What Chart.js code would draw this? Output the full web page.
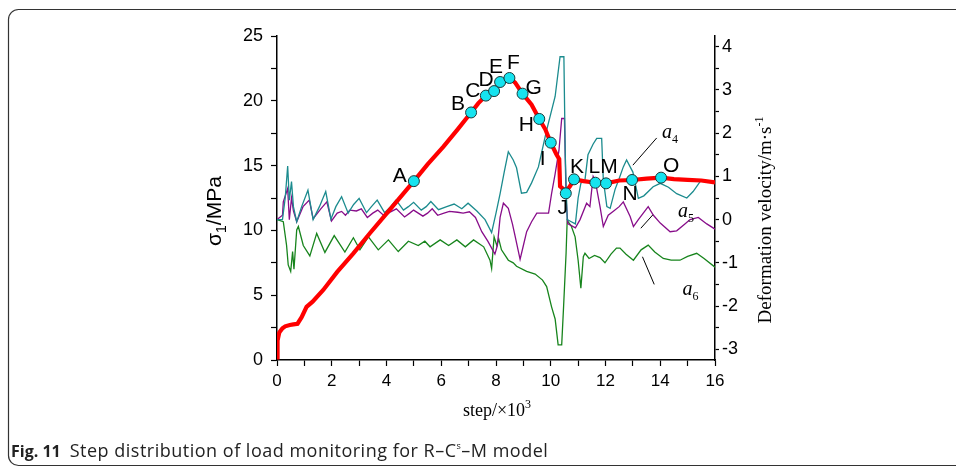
<!DOCTYPE html>
<html>
<head>
<meta charset="utf-8">
<script src="https://cdn.jsdelivr.net/npm/chart.js@4.4.1/dist/chart.umd.min.js"></script>
<style>
  html, body { margin: 0; padding: 0; background: #fff; }
  #wrap { width: 956px; height: 469px; }
</style>
</head>
<body>
<div id="wrap"><canvas id="loadChart" width="956" height="469"></canvas></div>
<script>
// stress curve (step in 10^3, sigma1 in MPa)
const stressSteps = [0, 0.01, 0.03, 0.08, 0.11, 0.2, 0.3, 0.47, 0.6, 0.75, 0.9, 1.08, 1.3, 1.69, 2.2, 2.79, 3.4, 4.0, 4.5, 5.0, 5.5, 6.08, 6.6, 7.09, 7.35, 7.63, 7.93, 8.15, 8.3, 8.49, 8.7, 8.97, 9.3, 9.58, 9.8, 10.0, 10.2, 10.31, 10.34, 10.45, 10.55, 10.7, 10.85, 11.2, 11.63, 12.02, 12.5, 12.97, 13.5, 14.03, 14.5, 15.0, 15.5, 16.0];
const stressValues = [0.2, 0.5, 1.5, 2.1, 2.2, 2.45, 2.6, 2.7, 2.75, 2.8, 3.3, 4.1, 4.5, 5.4, 6.8, 8.23, 9.8, 11.3, 12.55, 13.8, 15.1, 16.46, 17.8, 19.1, 19.8, 20.4, 20.75, 21.45, 21.6, 21.76, 21.4, 20.55, 19.7, 18.6, 17.8, 16.77, 15.9, 15.5, 13.4, 13.2, 13.0, 13.4, 13.94, 13.8, 13.68, 13.63, 13.85, 13.89, 14.0, 14.07, 13.95, 13.9, 13.85, 13.7];

// monitoring points on the stress curve
const markerLabels = ['A', 'B', 'C', 'D', 'E', 'F', 'G', 'H', 'I', 'J', 'K', 'L', 'M', 'N', 'O'];
const markerSteps = [5.0, 7.09, 7.63, 7.93, 8.15, 8.49, 8.97, 9.58, 10.0, 10.55, 10.85, 11.63, 12.02, 12.97, 14.03];
const markerStress = [13.8, 19.1, 20.4, 20.75, 21.45, 21.76, 20.55, 18.6, 16.77, 12.86, 13.94, 13.68, 13.63, 13.89, 14.07];

// deformation velocity a4 (m/s)
const a4Steps = [0, 0.2, 0.3, 0.39, 0.45, 0.53, 0.6, 0.72, 0.9, 1.13, 1.32, 1.55, 1.78, 1.97, 2.15, 2.36, 2.6, 2.8, 3.0, 3.27, 3.45, 3.66, 3.93, 4.15, 4.35, 4.62, 4.8, 4.99, 5.27, 5.45, 5.62, 5.9, 6.2, 6.47, 6.75, 6.98, 7.3, 7.6, 7.84, 8.0, 8.15, 8.3, 8.45, 8.63, 8.75, 8.93, 9.12, 9.3, 9.55, 9.85, 10.16, 10.34, 10.48, 10.53, 10.6, 10.75, 10.9, 11.0, 11.1, 11.25, 11.36, 11.55, 11.68, 11.86, 11.92, 12.05, 12.17, 12.35, 12.5, 12.65, 12.77, 13.0, 13.2, 13.4, 13.74, 14.0, 14.3, 14.6, 14.97, 15.2, 15.5, 15.8, 16.0];
const a4Values = [0, 0, 0.5, 1.24, 0.45, 0.88, 0.3, -0.05, 0.3, 0.68, 0, 0.3, 0.65, 0.01, 0.3, 0.53, 0.15, 0.35, 0.49, 0.16, 0.3, 0.45, 0.16, 0.3, 0.45, 0.22, 0.3, 0.4, 0.22, 0.3, 0.42, 0.23, 0.3, 0.36, 0.25, 0.38, 0.2, 0.0, -0.3, 0.15, 0.6, 1.1, 1.57, 1.38, 1.2, 0.61, 0.63, 0.85, 1.22, 2.07, 2.85, 3.77, 3.77, 1.5, 0.0, -0.05, -0.1, 0.5, 0.84, 0.92, 1.5, 1.75, 1.88, 1.88, 0.92, 0.3, 0.26, 0.7, 0.95, 1.22, 1.38, 1.1, 0.49, 0.55, 0.76, 0.84, 0.75, 0.6, 0.5, 0.65, 0.92, 0.88, 0.85];

// deformation velocity a5 (m/s)
const a5Steps = [0, 0.2, 0.23, 0.39, 0.45, 0.53, 0.6, 0.72, 0.95, 1.18, 1.32, 1.6, 1.82, 1.99, 2.2, 2.36, 2.5, 2.66, 2.9, 3.08, 3.3, 3.5, 3.68, 3.93, 4.15, 4.36, 4.66, 4.85, 4.99, 5.33, 5.5, 5.67, 5.87, 6.1, 6.3, 6.6, 6.8, 7.03, 7.25, 7.48, 7.7, 7.96, 8.05, 8.15, 8.27, 8.45, 8.6, 8.69, 8.88, 9.0, 9.12, 9.3, 9.49, 9.92, 10.03, 10.16, 10.3, 10.4, 10.5, 10.56, 10.62, 10.9, 11.07, 11.31, 11.43, 11.55, 11.62, 11.8, 11.92, 12.1, 12.3, 12.5, 12.65, 12.9, 13.02, 13.2, 13.56, 13.75, 14.0, 14.36, 14.6, 14.9, 15.09, 15.39, 15.7, 16.0];
const a5Values = [0, 0.1, 0.41, 0.72, 0.0, 0.5, 0.2, -0.05, 0.3, 0.45, 0.02, 0.25, 0.41, -0.03, 0.15, 0.19, 0.1, 0.22, 0.2, 0.25, 0.05, 0.15, 0.22, 0.08, 0.18, 0.25, 0.06, 0.15, 0.22, 0.08, 0.15, 0.25, 0.1, 0.15, 0.19, 0.17, 0.15, 0.18, 0.05, -0.28, -0.5, -0.8, -0.6, 0.05, 0.38, 0.26, -0.1, -0.36, -0.92, -0.6, -0.28, -0.05, 0.15, 0.15, 0.6, 1.06, 1.6, 2.34, 2.34, 0.5, -0.09, -0.19, 0.0, 0.38, 0.3, 1.0, 0.92, 0.3, -0.16, 0.1, 0.2, 0.3, 0.41, 0.07, -0.16, 0.0, 0.3, 0.1, -0.08, -0.28, -0.26, -0.1, 0.0, 0.05, -0.1, -0.22];

// deformation velocity a6 (m/s)
const a6Steps = [0, 0.23, 0.35, 0.41, 0.5, 0.57, 0.62, 0.72, 0.78, 0.96, 1.2, 1.45, 1.75, 2.09, 2.48, 2.79, 3.03, 3.34, 3.7, 4.07, 4.43, 4.8, 5.16, 5.4, 5.59, 5.96, 6.27, 6.57, 6.88, 7.18, 7.55, 7.78, 7.84, 7.93, 8.03, 8.1, 8.2, 8.45, 8.63, 8.75, 9.12, 9.43, 9.7, 9.85, 10.03, 10.16, 10.27, 10.4, 10.47, 10.56, 10.6, 10.75, 10.89, 11.0, 11.1, 11.19, 11.25, 11.4, 11.6, 11.8, 11.98, 12.2, 12.4, 12.53, 12.75, 13.02, 13.3, 13.56, 13.8, 14.11, 14.4, 14.72, 15.0, 15.33, 15.6, 16.0];
const a6Values = [0, -0.05, -0.6, -1.05, -1.2, -0.74, -1.15, -0.24, -0.16, -0.6, -0.84, -0.32, -0.76, -0.37, -0.75, -0.42, -0.7, -0.4, -0.7, -0.47, -0.74, -0.5, -0.6, -0.5, -0.63, -0.47, -0.6, -0.47, -0.63, -0.47, -0.63, -0.94, -1.13, -0.4, -0.6, -0.45, -0.7, -0.94, -1.0, -1.08, -1.2, -1.26, -1.4, -1.55, -2.02, -2.3, -2.9, -2.9, -2.0, -0.78, -0.02, -0.15, -0.4, -0.94, -1.59, -0.86, -0.78, -0.9, -0.83, -0.88, -1.0, -0.8, -0.66, -0.66, -0.8, -0.94, -0.7, -0.59, -0.75, -0.9, -0.94, -0.94, -0.85, -0.78, -0.9, -1.1];

// axis ticks (labelled ones, minor ticks sit halfway between)
const stepTicks = [0, 2, 4, 6, 8, 10, 12, 14, 16];
const stressTicks = [0, 5, 10, 15, 20, 25];
const velocityTicks = [-3, -2, -1, 0, 1, 2, 3, 4];

// pixel offsets of the point letters from their marker
const markerLabelOffsets = [[-14, -5], [-13, -8], [-13, -4], [-8, -11], [-4, -15], [4, -15], [11, -5], [-13, 6], [-8, 17], [-3, 15], [3, -12], [-1, -16], [3, -16], [-2, 14], [10, -11]];

// series tags with leader lines (in step / velocity units)
const seriesTags = [
  { name: '4', from: [13.0, 1.26], to: [13.87, 1.89], at: [14.06, 1.88] },
  { name: '5', from: [13.29, -0.2], to: [13.73, 0.11], at: [14.65, 0.06] },
  { name: '6', from: [13.35, -0.86], to: [13.78, -1.5], at: [14.81, -1.75] }
];

const pairs = (xs, ys) => xs.map((v, i) => ({ x: v, y: ys[i] }));

// major ticks plus the halfway minor ticks
const withMinor = major => {
  const out = [];
  major.forEach((v, i) => {
    out.push(v);
    if (i < major.length - 1) out.push((v + major[i + 1]) / 2);
  });
  return out.map(v => ({ value: v }));
};

const sansFont = "'Liberation Sans', Arial, sans-serif";
const serifFont = "'Liberation Serif', 'Times New Roman', serif";

const overlay = {
  id: 'overlay',
  afterDatasetsDraw(chart) {
    const { ctx, scales: { x, y, y1 } } = chart;
    ctx.save();
    // point letters
    ctx.fillStyle = '#000';
    ctx.font = '21px ' + sansFont;
    ctx.textAlign = 'center';
    ctx.textBaseline = 'middle';
    markerLabels.forEach((lab, i) => {
      const px = x.getPixelForValue(markerSteps[i]);
      const py = y.getPixelForValue(markerStress[i]);
      const off = markerLabelOffsets[i];
      ctx.fillText(lab, px + off[0], py + off[1]);
    });
    // a4 / a5 / a6 tags
    ctx.strokeStyle = '#000';
    ctx.lineWidth = 1;
    ctx.textAlign = 'left';
    ctx.textBaseline = 'alphabetic';
    seriesTags.forEach(t => {
      ctx.beginPath();
      ctx.moveTo(x.getPixelForValue(t.from[0]), y1.getPixelForValue(t.from[1]));
      ctx.lineTo(x.getPixelForValue(t.to[0]), y1.getPixelForValue(t.to[1]));
      ctx.stroke();
      const tx = x.getPixelForValue(t.at[0]);
      const ty = y1.getPixelForValue(t.at[1]);
      ctx.font = 'italic 20px ' + serifFont;
      ctx.fillText('a', tx, ty);
      const w = ctx.measureText('a').width;
      ctx.font = '12px ' + serifFont;
      ctx.fillText(t.name, tx + w, ty + 5);
    });
    ctx.restore();
  },
  afterDraw(chart) {
    const { ctx } = chart;
    ctx.save();
    ctx.fillStyle = '#000';
    ctx.textBaseline = 'alphabetic';

    // left axis title: sigma_1/MPa
    ctx.save();
    ctx.translate(221, 211);
    ctx.rotate(-Math.PI / 2);
    ctx.font = '21px ' + sansFont;
    const s1 = ctx.measureText('σ').width;
    ctx.font = '14px ' + sansFont;
    const s2 = ctx.measureText('1').width;
    ctx.font = '21px ' + sansFont;
    const s3 = ctx.measureText('/MPa').width;
    let sx = -(s1 + s2 + s3) / 2;
    ctx.textAlign = 'left';
    ctx.fillText('σ', sx, 0);
    ctx.font = '14px ' + sansFont;
    ctx.fillText('1', sx + s1, 5);
    ctx.font = '21px ' + sansFont;
    ctx.fillText('/MPa', sx + s1 + s2, 0);
    ctx.restore();

    // right axis title
    ctx.save();
    ctx.translate(771, 220);
    ctx.rotate(-Math.PI / 2);
    ctx.font = '19px ' + serifFont;
    const r1 = ctx.measureText('Deformation velocity/m·s').width;
    ctx.font = '12px ' + serifFont;
    const r2 = ctx.measureText('-1').width;
    let rx = -(r1 + r2) / 2;
    ctx.font = '19px ' + serifFont;
    ctx.fillText('Deformation velocity/m·s', rx, 0);
    ctx.font = '12px ' + serifFont;
    ctx.fillText('-1', rx + r1, -8);
    ctx.restore();

    // bottom axis title
    ctx.font = '18px ' + serifFont;
    const b1 = ctx.measureText('step/×10').width;
    ctx.font = '12px ' + serifFont;
    const b2 = ctx.measureText('3').width;
    let bx = 497 - (b1 + b2) / 2;
    ctx.font = '18px ' + serifFont;
    ctx.fillText('step/×10', bx, 416);
    ctx.font = '12px ' + serifFont;
    ctx.fillText('3', bx + b1, 408);

    // caption
    const capFont = "'Open Sans', 'Noto Sans', sans-serif";
    ctx.fillStyle = '#222';
    ctx.font = 'bold 16px ' + capFont;
    ctx.fillText('Fig. 11', 11, 457);
    let cx = 11 + ctx.measureText('Fig. 11').width + 9;
    ctx.letterSpacing = '0.5px';
    ctx.font = '18px ' + capFont;
    ctx.fillText('Step distribution of load monitoring for R–C', cx, 457);
    cx += ctx.measureText('Step distribution of load monitoring for R–C').width;
    ctx.font = '9px ' + capFont;
    ctx.fillText('s', cx, 449);
    cx += ctx.measureText('s').width;
    ctx.font = '18px ' + capFont;
    ctx.fillText('–M model', cx, 457);
    ctx.letterSpacing = '0px';

    // figure frame
    ctx.strokeStyle = '#333';
    ctx.lineWidth = 1.2;
    ctx.beginPath();
    ctx.roundRect(8.5, 9.5, 1100, 456, 10);
    ctx.stroke();
    ctx.restore();
  }
};

const lineStyle = (color, width) => ({
  borderColor: color,
  backgroundColor: color,
  borderWidth: width,
  pointRadius: 0,
  tension: 0,
  fill: false
});

const ctx = document.getElementById('loadChart').getContext('2d');

const loadChart = new Chart(ctx, {
  type: 'line',
  data: {
    datasets: [
      {
        label: 'points',
        data: pairs(markerSteps, markerStress),
        yAxisID: 'y',
        showLine: false,
        pointRadius: 5.5,
        pointBackgroundColor: '#16e3ef',
        pointBorderColor: '#1a3a3a',
        pointBorderWidth: 1
      },
      Object.assign({ label: 'sigma1', data: pairs(stressSteps, stressValues), yAxisID: 'y' }, lineStyle('#ff0000', 4.2)),
      Object.assign({ label: 'a4', data: pairs(a4Steps, a4Values), yAxisID: 'y1' }, lineStyle('#1b8b8e', 1.3)),
      Object.assign({ label: 'a5', data: pairs(a5Steps, a5Values), yAxisID: 'y1' }, lineStyle('#880d8a', 1.3)),
      Object.assign({ label: 'a6', data: pairs(a6Steps, a6Values), yAxisID: 'y1' }, lineStyle('#17841c', 1.3))
    ]
  },
  options: {
    responsive: false,
    animation: false,
    events: [],
    layout: { padding: { top: 36, left: 0, right: 0, bottom: 0 } },
    plugins: {
      legend: { display: false },
      tooltip: { enabled: false },
      title: { display: false }
    },
    scales: {
      x: {
        type: 'linear',
        min: 0,
        max: 16,
        afterFit: s => { s.height = 109; },
        afterBuildTicks: s => { s.ticks = withMinor(stepTicks); },
        border: { display: true, color: '#000', width: 1.5 },
        grid: { drawOnChartArea: false, tickLength: 6, tickColor: '#000', tickWidth: 1.2 },
        ticks: {
          maxRotation: 0,
          autoSkip: false,
          padding: 5,
          color: '#000',
          font: { family: "'Liberation Sans Narrow', 'Liberation Sans', Arial, sans-serif", size: 17 },
          callback: v => stepTicks.includes(v) ? String(v) : ''
        }
      },
      y: {
        position: 'left',
        min: 0,
        max: 25,
        afterFit: s => { s.width = 277; },
        afterBuildTicks: s => { s.ticks = withMinor(stressTicks); },
        border: { display: true, color: '#000', width: 1.5 },
        grid: { drawOnChartArea: false, tickLength: 6, tickColor: '#000', tickWidth: 1.2 },
        ticks: {
          autoSkip: false,
          padding: 8,
          color: '#000',
          font: { family: sansFont, size: 18 },
          callback: v => stressTicks.includes(v) ? String(v) : ''
        }
      },
      y1: {
        position: 'right',
        min: -3.25,
        max: 4.25,
        afterFit: s => { s.width = 241; },
        afterBuildTicks: s => { s.ticks = withMinor(velocityTicks); },
        border: { display: true, color: '#000', width: 1.5 },
        grid: { drawOnChartArea: false, tickLength: 4, tickColor: '#000', tickWidth: 1.2 },
        ticks: {
          autoSkip: false,
          padding: 3,
          color: '#000',
          font: { family: sansFont, size: 18 },
          callback: v => velocityTicks.includes(v) ? String(v) : ''
        }
      }
    }
  },
  plugins: [overlay]
});
</script>
</body>
</html>
